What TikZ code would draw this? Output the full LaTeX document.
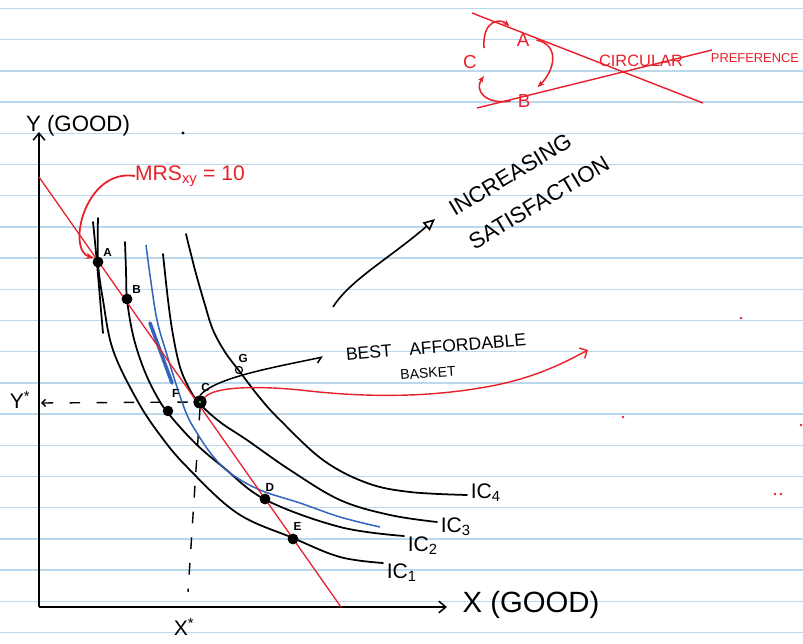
\documentclass[tikz,border=0pt]{standalone}
\usepackage{fontspec}
\setmainfont{Liberation Sans}
\usetikzlibrary{positioning,arrows.meta,calc}
\definecolor{penred}{HTML}{E8202A}
\definecolor{penblue}{HTML}{3366BB}
\definecolor{rulebl}{HTML}{BCD8EC}
\definecolor{pengreen}{HTML}{22CC22}
\begin{document}
\begin{tikzpicture}[x=0.03cm, y=-0.03cm,
    ic/.style={line width=1.5pt, line cap=round},
    dotpt/.style={circle, fill=black, inner sep=0pt, minimum size=9pt},
    ptlbl/.style={font=\fontsize{10}{12}\selectfont\bfseries, inner sep=0pt},
    hand/.style={font=\fontsize{#1}{#1}\selectfont, inner sep=0pt},
    redlbl/.style={hand=16, text=penred, inner sep=6pt}]
  \useasboundingbox (0,0) rectangle (803,644);
  \fill[white] (0,0) rectangle (803,644);
  \foreach \k in {0,...,20}
    \draw[rulebl, line width=1.2pt] (0,{8.5+31.2*\k}) -- (803,{8.5+31.2*\k});
  % axes
  \coordinate (O) at (39,607);
  \coordinate (ytip) at (39,132);
  \coordinate (xtip) at (447,607);
  \draw[line width=1.3pt, -{Straight Barb[length=6pt, width=10pt]}] (O) -- (ytip);
  \draw[line width=1.3pt, -{Straight Barb[length=6pt, width=10pt]}] (O) -- (xtip);
  \node[hand=19] (ylbl) at (78,126) {Y (GOOD)};
  \node[hand=25] (xlbl) at (531,605) {X (GOOD)};
  % points on the curves
  \node[dotpt] (A) at (98,262) {};
  \node[dotpt] (B) at (127,299) {};
  \node[dotpt] (F) at (168,411) {};
  \node[dotpt, minimum size=11pt] (C) at (200,402) {};
  \node[dotpt] (D) at (265,499) {};
  \node[dotpt] (E) at (293,539) {};
  \node[circle, draw, line width=1pt, fill=white, inner sep=0pt, minimum size=6pt] (G) at (239,370) {};
  % dashed guides
  \coordinate (ystar) at (41,403);
  \coordinate (xstar) at (188,592);
  \draw[line width=1.2pt, dash pattern=on 9pt off 14pt, {Straight Barb[length=3pt]}-] (ystar) -- (C.west);
  \draw[line width=1.2pt, dash pattern=on 10pt off 12pt] (C.south) -- (xstar);
  \node[hand=18] (ys) at (20,400) {Y\textsuperscript{*}};
  \node[hand=18] (xs) at (184,627) {X\textsuperscript{*}};
  % indifference curves
  \draw[ic] plot[smooth, tension=0.6] coordinates {(98,218) (98,262) (103,300) (113,350) (137,400) (160,435) (187,467) (237,513) (293,538) (340,557) (383,563)};
  \coordinate (ic1end) at (383,563);
  \draw[ic] (93,222) .. controls (97,260) and (100,300) .. (103,333);
  \draw[ic] plot[smooth, tension=0.6] coordinates {(125,242) (126,270) (127,299) (133,335) (143,367) (155,393) (168,413) (195,443) (223,467) (266,500) (340,527) (404,536)};
  \coordinate (ic2end) at (404,536);
  \draw[ic] plot[smooth, tension=0.6] coordinates {(163,254) (168,300) (173,335) (180,367) (189,388) (199,403) (220,422) (247,440) (290,470) (340,500) (390,515) (437,522)};
  \coordinate (ic3end) at (437,522);
  \draw[ic] plot[smooth, tension=0.6] coordinates {(186,234) (195,270) (205,305) (213,330) (225,352) (240,372) (260,398) (280,420) (323,460) (367,483) (410,492) (467,495)};
  \coordinate (ic4end) at (467,495);
  \node[hand=18, right=3pt of ic1end, yshift=-8pt] (ic1) {IC\textsubscript{1}};
  \node[hand=18, right=3pt of ic2end, yshift=-8pt] (ic2) {IC\textsubscript{2}};
  \node[hand=18, right=3pt of ic3end, yshift=-4pt] (ic3) {IC\textsubscript{3}};
  \node[hand=18, right=3pt of ic4end, yshift=2pt] (ic4) {IC\textsubscript{4}};
  \draw[penblue, line width=1.3pt] plot[smooth, tension=0.6] coordinates {(146,245) (150,275) (157,320) (167,355) (177,387) (187,415) (197,433) (212,455) (230,473) (260,490) (300,503) (340,517) (380,527)};
  \draw[penblue, line width=3pt, line cap=round] (150,323) -- (172,383);
  % budget line
  \coordinate (bl) at (39,177);
  \coordinate (br) at (341,607);
  \draw[penred, line width=1.1pt] (bl) -- (br);
  \foreach \p in {A,B,D,E} \node[dotpt] at (\p) {};
  \node[dotpt, minimum size=11pt] at (C) {};
  \fill[pengreen] (C) circle (1.2pt);
  \node[ptlbl, above right=1pt and 1pt of A] {A};
  \node[ptlbl, above right=1pt and 1pt of B] {B};
  \node[ptlbl, above right=8pt and 0pt of F] {F};
  \node[ptlbl, above right=5pt and -3pt of C] {C};
  \node[ptlbl, above right=4pt and -3pt of G] {G};
  \node[ptlbl, above right=3pt and -3pt of D] {D};
  \node[ptlbl, above right=4pt and -3pt of E] {E};
  % MRS note
  \node[hand=18, text=penred] (mrs) at (190,176) {MRS\textsubscript{xy} = 10};
  \draw[penred, line width=1.5pt, -{Stealth[length=7pt]}] (mrs.west) .. controls (85,168) and (66,250) .. (A.north west);
  % best affordable basket
  \node[hand=15, rotate=5] (best) at (436,347) {BEST\quad AFFORDABLE};
  \node[hand=12, rotate=4] (basket) at (428,373) {BASKET};
  \coordinate (bestend) at (323,357);
  \draw[line width=1.3pt, -{Straight Barb[right, length=4pt, width=8pt]}] (C.north) .. controls (215,378) and (270,368) .. (bestend);
  \coordinate (redend) at (588,350);
  \draw[penred, line width=1.2pt, -{Straight Barb[length=5pt]}] (C.north east) .. controls (215,386) and (260,386) .. (300,390) .. controls (360,397) and (420,398) .. (480,388) .. controls (530,380) and (560,365) .. (redend);
  % increasing satisfaction
  \node[rotate=31, align=left, inner sep=0pt, font=\fontsize{19}{33}\selectfont] (incr) at (529,186) {INCREASING\\SATISFACTION};
  \coordinate (incs) at (333,307);
  \coordinate (ince) at (435,219);
  \draw[line width=1.4pt, -{Triangle[open, length=10pt, width=9pt]}] (incs) .. controls (350,280) and (390,258) .. (ince);
  % circular preference
  \node[redlbl] (cA) at (523,40) {A};
  \node[redlbl] (cB) at (524,101) {B};
  \node[redlbl] (cC) at (470,62) {C};
  \draw[penred, line width=1.3pt, -{Stealth[length=6pt]}] (cC.north east) .. controls (482,20) and (500,18) .. (cA.north west);
  \draw[penred, line width=1.3pt, -{Stealth[length=6pt]}] (cA.east) .. controls (560,45) and (555,70) .. (cB.north east);
  \draw[penred, line width=1.3pt, -{Stealth[length=6pt]}] (cB.west) .. controls (485,105) and (474,90) .. (cC.south east);
  \coordinate (x1s) at (472,13);
  \coordinate (x1e) at (703,103);
  \coordinate (x2s) at (477,108);
  \coordinate (x2e) at (712,50);
  \draw[penred, line width=1.2pt] (x1s) -- (x1e);
  \draw[penred, line width=1.2pt] (x2s) -- (x2e);
  \node[hand=14, text=penred] (circ) at (641,61) {CIRCULAR};
  \node[hand=11, text=penred] (pref) at (755,58) {PREFERENCE};
  % stray marks
  \fill (183,133) circle (1.3pt);
  \foreach \s in {(741,318),(623,417),(801,425),(775,494),(781,494)}
    \fill[penred] \s circle (1.1pt);
\end{tikzpicture}
\end{document}
